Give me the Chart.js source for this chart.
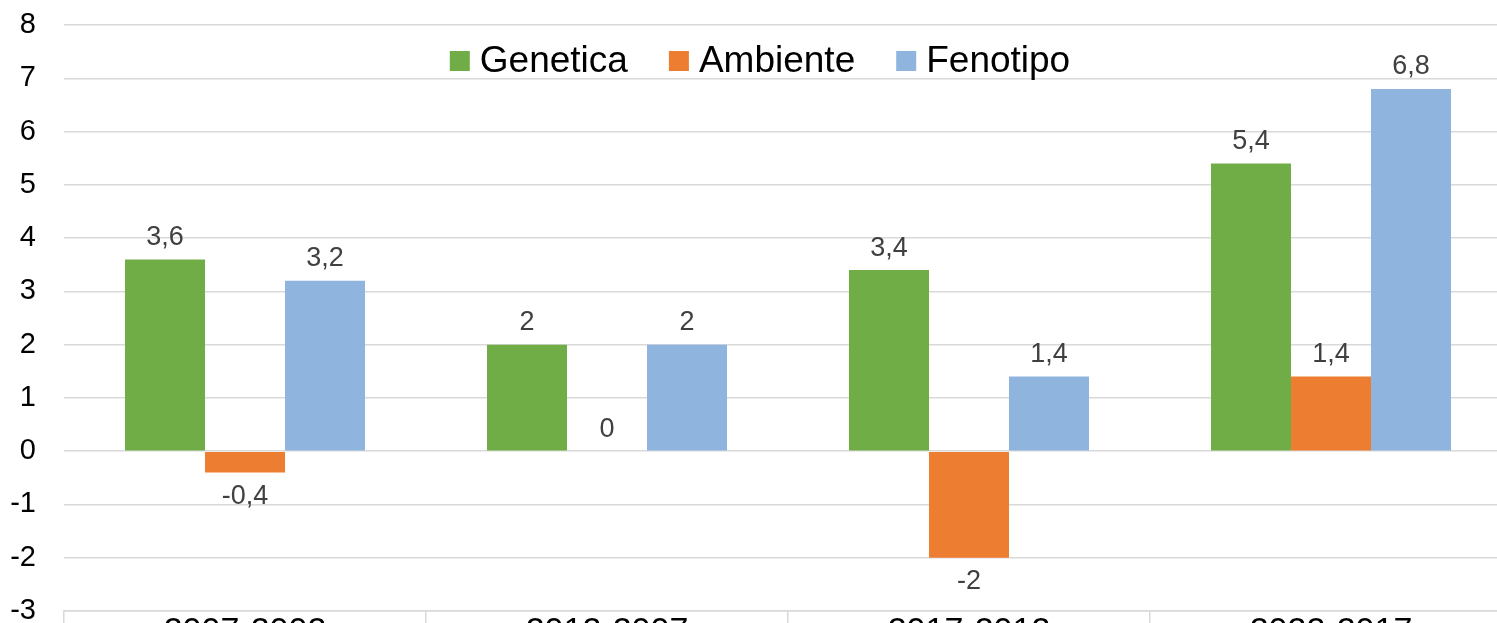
<!DOCTYPE html>
<html>
<head>
<meta charset="utf-8">
<script src="https://cdn.jsdelivr.net/npm/chart.js@4"></script>
<style>
    html, body { margin: 0; padding: 0; background: white; overflow: hidden; }
    #wrap { position: absolute; left: 0; top: 0; width: 1520px; height: 680px; }
</style>
</head>
<body>
<div id="wrap"><canvas id="chart"></canvas></div>
<script>
// values
const periods = ['2007-2002', '2012-2007', '2017-2012', '2022-2017'];
const genetica = [3.6, 2, 3.4, 5.4];
const ambiente = [-0.4, 0, -2, 1.4];
const fenotipo = [3.2, 2, 1.4, 6.8];
const seriesNames = ['Genetica', 'Ambiente', 'Fenotipo'];
const seriesColors = ['#70AD47', '#ED7D31', '#8FB4DE'];

const font = 'Liberation Sans, Arial, sans-serif';

// value labels above / below each bar, comma decimal like the original
const barLabels = {
    id: 'barLabels',
    afterDatasetsDraw(chart) {
        const ctx = chart.ctx;
        ctx.save();
        ctx.font = '27px ' + font;
        ctx.fillStyle = '#404040';
        ctx.textAlign = 'center';
        ctx.textBaseline = 'middle';
        chart.data.datasets.forEach((ds, i) => {
            chart.getDatasetMeta(i).data.forEach((bar, j) => {
                const v = ds.data[j];
                const y = v < 0 ? bar.y + 24 : bar.y - 22;
                ctx.fillText(String(v).replace('.', ','), bar.x, y);
            });
        });
        ctx.restore();
    }
};

// legend drawn inside the plot, one row, centred on the canvas
const innerLegend = {
    id: 'innerLegend',
    afterDraw(chart) {
        const ctx = chart.ctx;
        const box = 20, gap = 10, itemGap = 41, y = 61;
        ctx.save();
        ctx.font = '37px ' + font;
        ctx.textBaseline = 'middle';
        const items = chart.data.datasets.map(ds => ({
            text: ds.label, color: ds.backgroundColor, w: ctx.measureText(ds.label).width
        }));
        const total = items.reduce((s, it) => s + box + gap + it.w, 0) + itemGap * (items.length - 1);
        let x = chart.width / 2 - total / 2;
        items.forEach(it => {
            ctx.fillStyle = it.color;
            ctx.fillRect(x, y - box / 2, box, box);
            ctx.fillStyle = '#000';
            ctx.fillText(it.text, x + box + gap, y + 1);
            x += box + gap + it.w + itemGap;
        });
        ctx.restore();
    }
};

const allData = [genetica, ambiente, fenotipo];

new Chart(document.getElementById('chart').getContext('2d'), {
    type: 'bar',
    data: {
        labels: periods,
        datasets: seriesNames.map((name, i) => ({
            label: name,
            data: allData[i],
            backgroundColor: seriesColors[i],
            borderWidth: 0,
            barPercentage: 1,
            categoryPercentage: 0.663
        }))
    },
    options: {
        responsive: true,
        maintainAspectRatio: false,
        animation: false,
        layout: { padding: { top: 25, right: 8, left: 0, bottom: 0 } },
        plugins: {
            tooltip: { enabled: false },
            legend: { display: false }
        },
        scales: {
            x: {
                border: { display: true, color: '#d9d9d9', width: 1.5 },
                grid: {
                    offset: true,
                    drawOnChartArea: false,
                    drawTicks: true,
                    tickLength: 60,
                    color: '#d9d9d9',
                    lineWidth: 1.5
                },
                ticks: {
                    font: { size: 34, family: font },
                    color: '#000',
                    padding: -60
                },
                afterFit(scale) { scale.height = 69; scale.paddingLeft = 0; scale.paddingRight = 0; }
            },
            y: {
                min: -3,
                max: 8,
                border: { display: false },
                grid: { color: '#d9d9d9', lineWidth: 1.5, drawTicks: false },
                ticks: {
                    stepSize: 1,
                    font: { size: 29, family: font },
                    color: '#000',
                    padding: 28
                },
                afterFit(scale) { scale.width = 64; scale.paddingTop = 0; scale.paddingBottom = 0; }
            }
        }
    },
    plugins: [barLabels, innerLegend]
});
</script>
</body>
</html>
